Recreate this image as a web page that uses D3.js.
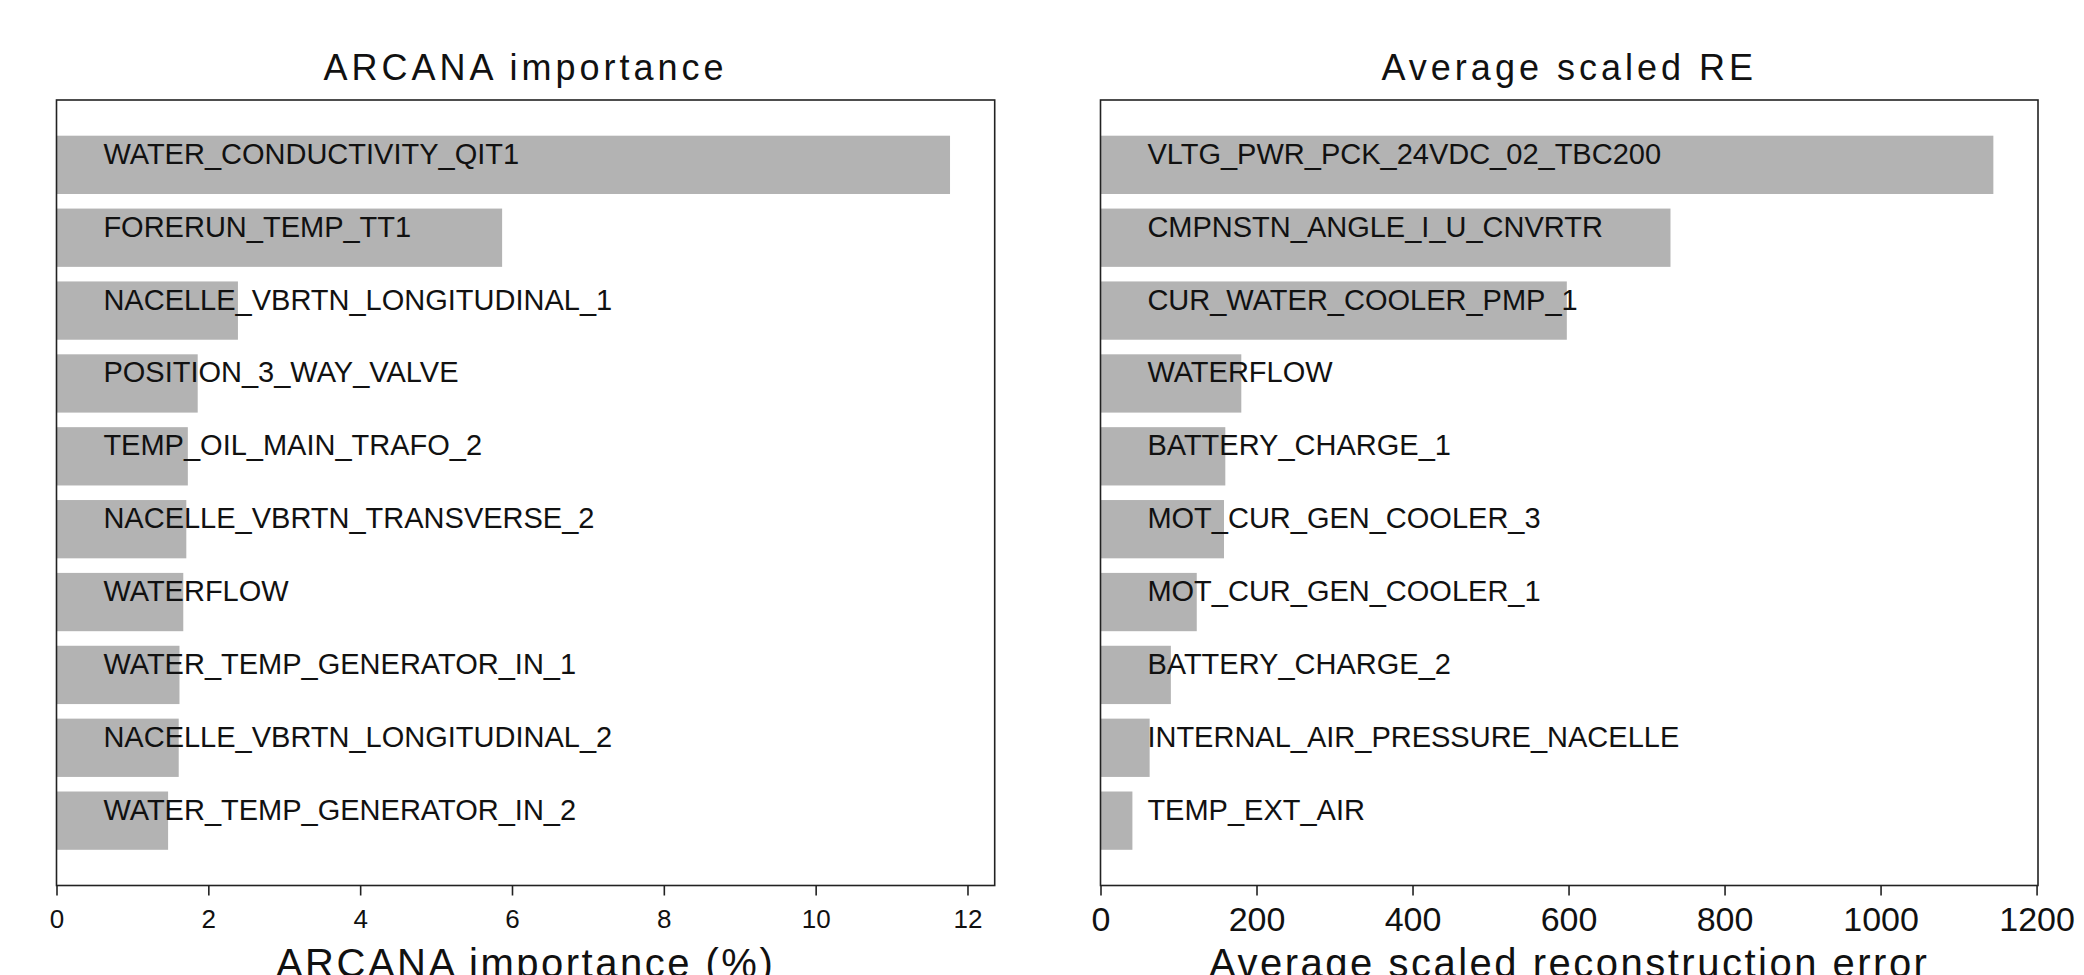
<!DOCTYPE html>
<html>
<head>
<meta charset="utf-8">
<script src="https://cdn.jsdelivr.net/npm/d3@7"></script>
<style>
  html, body { margin: 0; padding: 0; background: #fff; }
  svg { display: block; font-family: "Liberation Sans", Arial, Helvetica, sans-serif; }
</style>
</head>
<body>
<svg id="chart" width="2084" height="975"></svg>
<script>
// ---------- data ----------
const arcanaFeatures = [
  "WATER_CONDUCTIVITY_QIT1",
  "FORERUN_TEMP_TT1",
  "NACELLE_VBRTN_LONGITUDINAL_1",
  "POSITION_3_WAY_VALVE",
  "TEMP_OIL_MAIN_TRAFO_2",
  "NACELLE_VBRTN_TRANSVERSE_2",
  "WATERFLOW",
  "WATER_TEMP_GENERATOR_IN_1",
  "NACELLE_VBRTN_LONGITUDINAL_2",
  "WATER_TEMP_GENERATOR_IN_2"
];
const arcanaValues = [11.77, 5.87, 2.39, 1.86, 1.73, 1.71, 1.67, 1.62, 1.61, 1.47];
const arcanaTicks = [0, 2, 4, 6, 8, 10, 12];

const reFeatures = [
  "VLTG_PWR_PCK_24VDC_02_TBC200",
  "CMPNSTN_ANGLE_I_U_CNVRTR",
  "CUR_WATER_COOLER_PMP_1",
  "WATERFLOW",
  "BATTERY_CHARGE_1",
  "MOT_CUR_GEN_COOLER_3",
  "MOT_CUR_GEN_COOLER_1",
  "BATTERY_CHARGE_2",
  "INTERNAL_AIR_PRESSURE_NACELLE",
  "TEMP_EXT_AIR"
];
const reValues = [1144.6, 730.7, 597.8, 180.5, 160.0, 158.3, 123.4, 90.2, 63.0, 40.9];
const reTicks = [0, 200, 400, 600, 800, 1000, 1200];

const titles = ["ARCANA importance", "Average scaled RE"];
const xLabels = ["ARCANA importance (%)", "Average scaled reconstruction error"];

// ---------- layout ----------
const svg = d3.select("#chart");
const plotTop = 100, plotBottom = 885.5;
const panels = [
  { left: 56.5, right: 994.7, features: arcanaFeatures, values: arcanaValues, ticks: arcanaTicks,
    title: titles[0], xlabel: xLabels[0], tickFont: 26, tickPad: 14.5 },
  { left: 1100.5, right: 2038, features: reFeatures, values: reValues, ticks: reTicks,
    title: titles[1], xlabel: xLabels[1], tickFont: 34, tickPad: 11.5 }
];

panels.forEach(p => {
  const n = p.values.length;
  const xMax = d3.max(p.values) * 1.05;
  const x = d3.scaleLinear().domain([0, xMax]).range([p.left, p.right]);
  const pad = (n - 1 + 0.8) * 0.05;
  const y = d3.scaleLinear().domain([-0.4 - pad, n - 1 + 0.4 + pad]).range([plotTop, plotBottom]);

  const g = svg.append("g");

  g.selectAll("rect.bar")
    .data(p.values)
    .join("rect")
    .attr("class", "bar")
    .attr("x", x(0))
    .attr("y", (d, i) => y(i - 0.4))
    .attr("width", d => x(d) - x(0))
    .attr("height", (d, i) => y(i + 0.4) - y(i - 0.4))
    .attr("fill", "#b3b3b3");

  const labelX = p.left + 0.05 * (p.right - p.left);
  g.selectAll("text.feat")
    .data(p.features)
    .join("text")
    .attr("class", "feat")
    .attr("x", labelX)
    .attr("y", (d, i) => y(i) - 1)
    .attr("font-size", 29)
    .attr("fill", "#111")
    .text(d => d);

  g.append("rect")
    .attr("x", p.left)
    .attr("y", plotTop)
    .attr("width", p.right - p.left)
    .attr("height", plotBottom - plotTop)
    .attr("fill", "none")
    .attr("stroke", "#222")
    .attr("stroke-width", 1.6);

  const axis = d3.axisBottom(x)
    .tickValues(p.ticks)
    .tickFormat(d3.format("d"))
    .tickSize(10)
    .tickPadding(p.tickPad);
  const ag = g.append("g")
    .attr("transform", `translate(0,${plotBottom})`)
    .call(axis);
  ag.select(".domain").remove();
  ag.selectAll(".tick line").attr("stroke", "#222").attr("stroke-width", 1.6);
  ag.selectAll(".tick text")
    .attr("font-size", p.tickFont)
    .attr("fill", "#111")
    .style("font-family", "'Liberation Sans', Arial, sans-serif");

  const cx = (p.left + p.right) / 2;
  g.append("text")
    .attr("x", cx)
    .attr("y", 80)
    .attr("text-anchor", "middle")
    .attr("font-size", 36)
    .attr("letter-spacing", 4)
    .attr("fill", "#111")
    .text(p.title);

  g.append("text")
    .attr("x", cx)
    .attr("y", 977)
    .attr("text-anchor", "middle")
    .attr("font-size", 40)
    .attr("letter-spacing", 2.5)
    .attr("fill", "#111")
    .text(p.xlabel);
});
</script>
</body>
</html>
